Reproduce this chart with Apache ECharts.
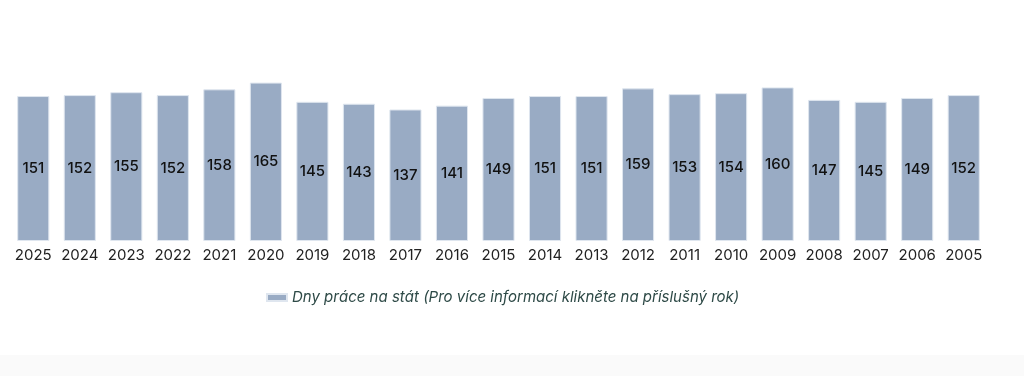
<!DOCTYPE html>
<html>
<head>
<meta charset="utf-8">
<script src="https://cdn.jsdelivr.net/npm/echarts@6/dist/echarts.min.js"></script>
<style>
html,body{margin:0;padding:0;background:#fff;}
#chart{width:1024px;height:355px;}
#strip{width:1024px;height:21px;background:#fafafa;}
</style>
</head>
<body>
<div id="chart"></div>
<div id="strip"></div>
<script>
const years = ['2025','2024','2023','2022','2021','2020','2019','2018','2017','2016','2015','2014','2013','2012','2011','2010','2009','2008','2007','2006','2005'];
const days = [151,152,155,152,158,165,145,143,137,141,149,151,151,159,153,154,160,147,145,149,152];
const seriesName = 'Dny práce na stát (Pro více informací klikněte na příslušný rok)';

const chart = echarts.init(document.getElementById('chart'), null, {renderer:'canvas'});
chart.setOption({
  animation:false,
  grid:{left:10,right:37,top:49,bottom:114},
  legend:{
    data:[seriesName],
    left:261, top:285,
    itemWidth:20, itemHeight:7, itemGap:6,
    icon:'rect',
    textStyle:{fontFamily:'Inter',fontSize:15,fontStyle:'italic',color:'#2e4a47'}
  },
  xAxis:{
    type:'category',
    data:years,
    axisLine:{show:false},
    axisTick:{show:false},
    axisLabel:{interval:0,fontFamily:'Inter',fontSize:15,color:'#222',margin:7}
  },
  yAxis:{
    type:'value',min:0,max:200,
    show:false,
    splitLine:{show:false}
  },
  series:[{
    name:seriesName,
    type:'bar',
    data:days,
    barCategoryGap:'31%',
    itemStyle:{color:'#99abc4',borderColor:'#dfe6ef',borderWidth:1},
    label:{show:true,position:'inside',fontFamily:'Inter',fontSize:15,fontWeight:500,color:'#111'}
  }]
});
</script>
</body>
</html>
